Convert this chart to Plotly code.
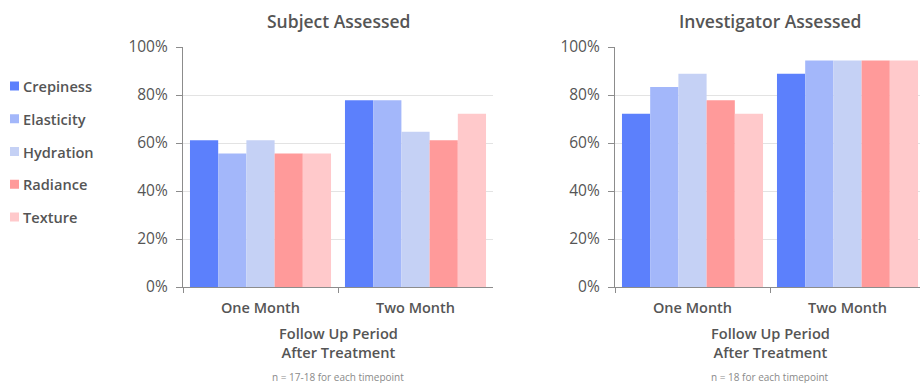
import plotly.graph_objects as go

# Follow-up timepoints and rated attributes
periods = ["One Month", "Two Month"]
attributes = ["Crepiness", "Elasticity", "Hydration", "Radiance", "Texture"]
colors = ["#5C80FC", "#A3B7FA", "#C5D1F5", "#FF9A9A", "#FFC9CB"]

# Percent of subjects reporting improvement (per attribute, per period)
subject_pct = {
    "Crepiness": [61.1, 77.8],
    "Elasticity": [55.6, 77.8],
    "Hydration": [61.1, 64.7],
    "Radiance": [55.6, 61.1],
    "Texture": [55.6, 72.2],
}
investigator_pct = {
    "Crepiness": [72.2, 88.9],
    "Elasticity": [83.3, 94.4],
    "Hydration": [88.9, 94.4],
    "Radiance": [77.8, 94.4],
    "Texture": [72.2, 94.4],
}

panel_titles = ["Subject Assessed", "Investigator Assessed"]
axis_title = "Follow Up Period<br>After Treatment"
footnotes = ["n = 17-18 for each timepoint", "n = 18 for each timepoint"]
y_ticks = [0, 20, 40, 60, 80, 100]
y_tick_labels = ["0%", "20%", "40%", "60%", "80%", "100%"]

FONT = "'Open Sans', Lato, sans-serif"
TEXT = "#555555"
W, H = 920, 383

fig = go.Figure()

for attr, col in zip(attributes, colors):
    fig.add_trace(go.Bar(x=periods, y=subject_pct[attr], name=attr,
                         marker=dict(color=col, line=dict(width=0)),
                         xaxis="x", yaxis="y", showlegend=False))
    fig.add_trace(go.Bar(x=periods, y=investigator_pct[attr], name=attr,
                         marker=dict(color=col, line=dict(width=0)),
                         xaxis="x2", yaxis="y2", showlegend=False))

# plot-area geometry in pixels
left_px = (183, 493)
right_px_start = 615
cat_w = (left_px[1] - left_px[0]) / 2
top_px, bot_px = 47, 287
ydom = [(H - bot_px) / H, (H - top_px) / H]

common_x = dict(
    showline=True, linecolor="#8C8C8C", linewidth=1.2,
    ticks="outside", ticklen=5, tickcolor="#8C8C8C", tickson="boundaries",
    showgrid=False, zeroline=False, fixedrange=True, automargin=False,
    tickfont=dict(family=FONT, size=14.5, color=TEXT, weight=600),
    ticklabelstandoff=7,
)
common_y = dict(
    range=[0, 100], tickmode="array", tickvals=y_ticks, ticktext=y_tick_labels,
    showline=True, linecolor="#8C8C8C", linewidth=1.2,
    ticks="outside", ticklen=6, tickcolor="#8C8C8C",
    showgrid=True, gridcolor="#E3E3E3", gridwidth=1, zeroline=False,
    automargin=False, fixedrange=True,
    tickfont=dict(family=FONT, size=15.5, color=TEXT),
    ticklabelstandoff=5,
)

# right panel runs past the page edge; keep the category scale identical
right_visible = (W - right_px_start) / cat_w

fig.update_layout(
    width=W, height=H,
    margin=dict(l=0, r=0, t=0, b=0, autoexpand=False),
    paper_bgcolor="white", plot_bgcolor="white",
    barmode="group", bargap=0.09, bargroupgap=0,
    showlegend=False,
    xaxis=dict(domain=[left_px[0] / W, left_px[1] / W], range=[-0.5, 1.5],
               anchor="y", **common_x),
    yaxis=dict(domain=ydom, anchor="x", **common_y),
    xaxis2=dict(domain=[right_px_start / W, 1.0],
                range=[-0.5, -0.5 + right_visible], anchor="y2", **common_x),
    yaxis2=dict(domain=ydom, anchor="x2", **common_y),
)

# panel centres in paper coordinates
centres = [(left_px[0] + cat_w) / W, (right_px_start + cat_w) / W]

annotations = []
for cx, title, note in zip(centres, panel_titles, footnotes):
    annotations.append(dict(x=cx, y=(H - 21) / H, xref="paper", yref="paper",
                            text=title, showarrow=False, xanchor="center", yanchor="middle",
                            font=dict(family=FONT, size=17.5, color=TEXT, weight=600)))
    annotations.append(dict(x=cx, y=(H - 342) / H, xref="paper", yref="paper",
                            text=axis_title, showarrow=False, xanchor="center", yanchor="middle",
                            font=dict(family=FONT, size=14.6, color=TEXT, weight=600)))
    annotations.append(dict(x=cx, y=(H - 377) / H, xref="paper", yref="paper",
                            text=note, showarrow=False, xanchor="center", yanchor="middle",
                            font=dict(family=FONT, size=10, color="#8A8A8A")))

# legend column on the left
shapes = []
row0, row_gap, sq = 86, 32.75, 9
for i, (attr, col) in enumerate(zip(attributes, colors)):
    cy = row0 + i * row_gap
    shapes.append(dict(type="rect", xref="paper", yref="paper",
                       x0=10 / W, x1=(10 + sq) / W,
                       y0=(H - cy - sq / 2) / H, y1=(H - cy + sq / 2) / H,
                       fillcolor=col, line=dict(width=0)))
    annotations.append(dict(x=21 / W, y=(H - cy) / H, xref="paper", yref="paper",
                            text=attr, showarrow=False, xanchor="left", yanchor="middle",
                            font=dict(family=FONT, size=14.6, color=TEXT, weight=600)))

fig.update_layout(annotations=annotations, shapes=shapes)

fig.write_html("out.html", config={"displayModeBar": False})
